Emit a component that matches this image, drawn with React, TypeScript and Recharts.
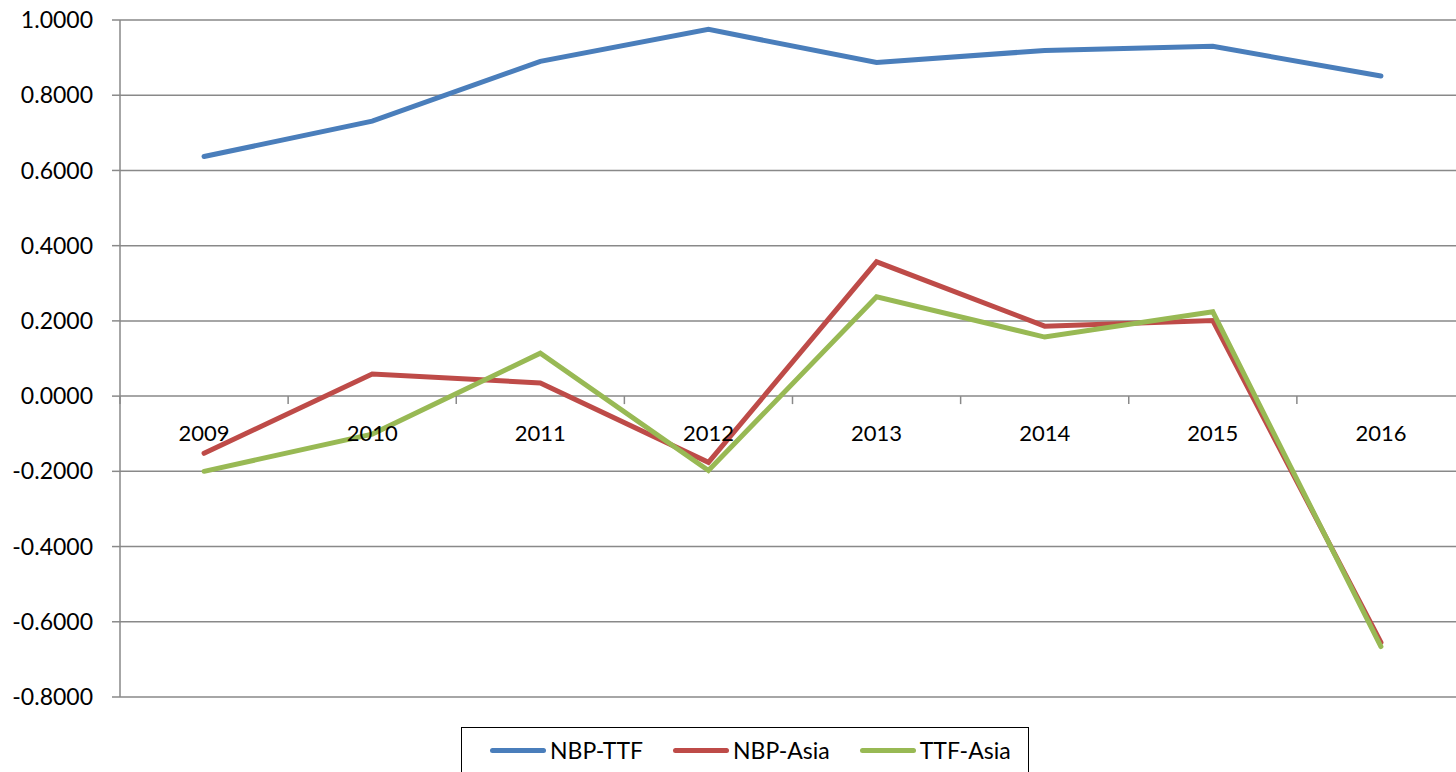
import { LineChart, Line, XAxis, YAxis, CartesianGrid, Legend } from "recharts";

const YEARS = ["2009", "2010", "2011", "2012", "2013", "2014", "2015", "2016"];
const NBP_TTF = [0.637, 0.731, 0.89, 0.975, 0.887, 0.919, 0.93, 0.851];
const NBP_ASIA = [-0.152, 0.059, 0.035, -0.176, 0.357, 0.186, 0.201, -0.655];
const TTF_ASIA = [-0.2, -0.101, 0.114, -0.198, 0.264, 0.157, 0.224, -0.666];
const Y_TICKS = [-0.8, -0.6, -0.4, -0.2, 0, 0.2, 0.4, 0.6, 0.8, 1.0];

const SERIES = [
  { key: "nbpTtf", name: "NBP-TTF", color: "#4A7EBB" },
  { key: "nbpAsia", name: "NBP-Asia", color: "#BE4B48" },
  { key: "ttfAsia", name: "TTF-Asia", color: "#98B954" },
];

const data = YEARS.map((year, i) => ({
  year,
  nbpTtf: NBP_TTF[i],
  nbpAsia: NBP_ASIA[i],
  ttfAsia: TTF_ASIA[i],
}));

const GRID = "#898989";
const CHART_W = 1480;
const CHART_H = 772;
const PLOT_LEFT = 120;
const PLOT_RIGHT = 1465;
const PLOT_TOP = 20;
const PLOT_BOTTOM = 697;
const Y_MIN = -0.8;
const Y_MAX = 1.0;
// x axis sits on the zero line, like in Excel
const ZERO_Y = PLOT_TOP + ((PLOT_BOTTOM - PLOT_TOP) * (Y_MAX - 0)) / (Y_MAX - Y_MIN);
const BAND = (PLOT_RIGHT - PLOT_LEFT) / YEARS.length;

function YearTick({ x, payload }: any) {
  return (
    <g transform={`translate(${x},${ZERO_Y})`}>
      <line x1={-BAND / 2} x2={-BAND / 2} y1={0} y2={8} stroke={GRID} strokeWidth={1.5} />
      <text y={36} textAnchor="middle" dominantBaseline="central" fontSize={22} fill="#000">
        {payload.value}
      </text>
    </g>
  );
}

function LegendBox() {
  return (
    <div
      style={{
        boxSizing: "border-box",
        width: 568,
        height: 60,
        border: "1.5px solid #000",
        background: "#fff",
        display: "flex",
        alignItems: "center",
        paddingLeft: 28,
        paddingBottom: 14,
        fontSize: 23,
        color: "#000",
      }}
    >
      {SERIES.map((s, i) => (
        <div key={s.key} style={{ display: "flex", alignItems: "center", marginLeft: i === 0 ? 0 : 30 }}>
          <div style={{ width: 56, height: 5, borderRadius: 3, background: s.color, marginRight: 4 }} />
          <span>{s.name}</span>
        </div>
      ))}
    </div>
  );
}

export default function App() {
  return (
    <div
      style={{
        position: "fixed",
        left: 0,
        top: 0,
        width: 1456,
        height: 772,
        overflow: "hidden",
        background: "#fff",
        fontFamily: "Lato, sans-serif",
      }}
    >
      <LineChart width={CHART_W} height={CHART_H} data={data} margin={{ top: PLOT_TOP, right: CHART_W - PLOT_RIGHT, left: 0, bottom: 0 }}>
        <CartesianGrid vertical={false} stroke={GRID} strokeWidth={1.5} />
        <XAxis
          dataKey="year"
          height={15}
          axisLine={false}
          tickLine={false}
          tick={<YearTick />}
          interval={0}
          padding={{ left: BAND / 2, right: BAND / 2 }}
        />
        <YAxis
          width={PLOT_LEFT}
          domain={[Y_MIN, Y_MAX]}
          ticks={Y_TICKS}
          tickFormatter={(v: number) => v.toFixed(4)}
          tickSize={8}
          tickMargin={19}
          axisLine={{ stroke: GRID, strokeWidth: 1.5 }}
          tickLine={{ stroke: GRID, strokeWidth: 1.5 }}
          tick={{ fill: "#000", fontSize: 23 }}
          interval={0}
        />
        <Legend
          verticalAlign="bottom"
          content={<LegendBox />}
          wrapperStyle={{ position: "absolute", left: 461, top: 727, width: 568, height: 60 }}
        />
        {SERIES.map((s) => (
          <Line
            key={s.key}
            type="linear"
            dataKey={s.key}
            name={s.name}
            stroke={s.color}
            strokeWidth={5}
            strokeLinecap="round"
            dot={false}
            isAnimationActive={false}
          />
        ))}
      </LineChart>
    </div>
  );
}
